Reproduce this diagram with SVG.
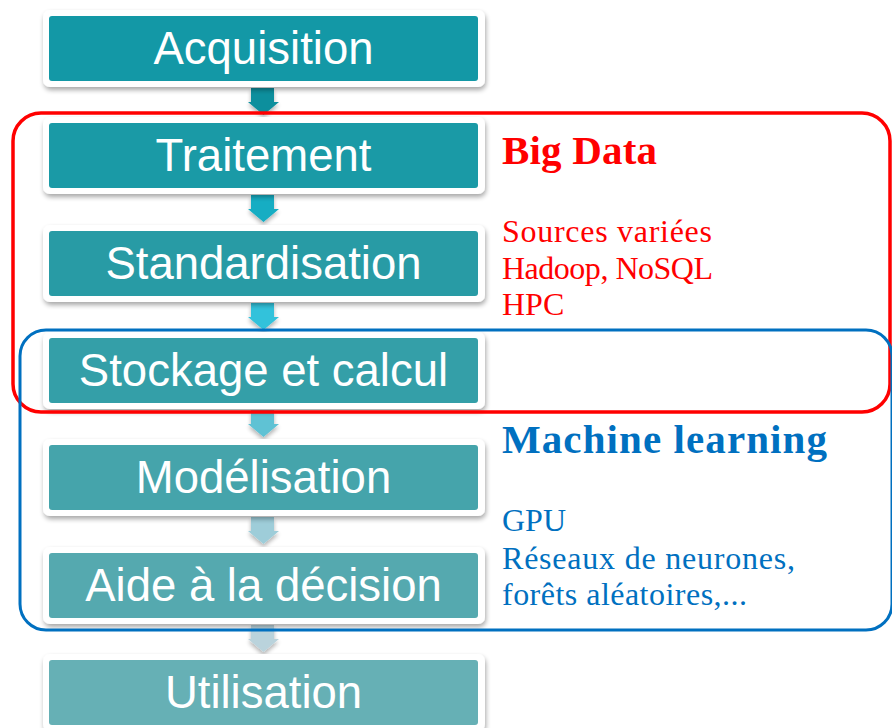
<svg xmlns="http://www.w3.org/2000/svg" width="892" height="728" viewBox="0 0 892 728">
<defs>
<filter id="sh" x="-10%" y="-20%" width="120%" height="150%">
<feGaussianBlur in="SourceAlpha" stdDeviation="2.5"/>
<feOffset dx="1" dy="3" result="b"/>
<feComponentTransfer><feFuncA type="linear" slope="0.35"/></feComponentTransfer>
<feMerge><feMergeNode/><feMergeNode in="SourceGraphic"/></feMerge>
</filter>
<filter id="ash" x="-50%" y="-50%" width="200%" height="200%">
<feGaussianBlur in="SourceAlpha" stdDeviation="2"/>
<feOffset dx="0" dy="3"/>
<feComponentTransfer><feFuncA type="linear" slope="0.3"/></feComponentTransfer>
<feMerge><feMergeNode/><feMergeNode in="SourceGraphic"/></feMerge>
</filter>
</defs>
<style>
.frame{fill:#ffffff;filter:url(#sh)}
.lbl{font-family:"Liberation Sans",Arial,sans-serif;font-size:45.5px;fill:#ffffff;text-anchor:middle}
.red{fill:#ff0000;font-family:"Liberation Serif","Times New Roman",serif}
.blue{fill:#0070c0;font-family:"Liberation Serif","Times New Roman",serif}
.ttl{font-weight:bold;font-size:41px}
.sub{font-size:32px}
</style>
<rect width="892" height="728" fill="#ffffff"/>

<g id="connectors">
<path d="M251 88h23v14h5l-15.5 13L248 102h3z" fill="#0e8f9d" filter="url(#ash)"/>
<path d="M251 195h23v14h5l-15.5 13L248 209h3z" fill="#14adc3" filter="url(#ash)"/>
<path d="M251 303h23v14h5l-15.5 13L248 317h3z" fill="#33c2db" filter="url(#ash)"/>
<path d="M251 410h23v14h5l-15.5 13L248 424h3z" fill="#5fc2d4" filter="url(#ash)"/>
<path d="M251 517h23v14h5l-15.5 13L248 531h3z" fill="#9ecdd9" filter="url(#ash)"/>
<path d="M251 625h23v14h5l-15.5 13L248 639h3z" fill="#bad3dc" filter="url(#ash)"/>
</g>

<g id="n1"><rect class="frame" x="43" y="10" width="442" height="77" rx="7"/><rect x="49" y="16" width="429" height="65" rx="3" fill="#1398a6"/><text class="lbl" x="263.5" y="64">Acquisition</text></g>
<g id="n2"><rect class="frame" x="43" y="117" width="442" height="77" rx="7"/><rect x="49" y="123" width="429" height="65" rx="3" fill="#1a9aa6"/><text class="lbl" x="263.5" y="171">Traitement</text></g>
<g id="n3"><rect class="frame" x="43" y="225" width="442" height="77" rx="7"/><rect x="49" y="231" width="429" height="65" rx="3" fill="#289ba5"/><text class="lbl" x="263.5" y="279">Standardisation</text></g>
<g id="n4"><rect class="frame" x="43" y="332" width="442" height="77" rx="7"/><rect x="49" y="338" width="429" height="65" rx="3" fill="#349fa8"/><text class="lbl" x="263.5" y="386">Stockage et calcul</text></g>
<g id="n5"><rect class="frame" x="43" y="439" width="442" height="77" rx="7"/><rect x="49" y="445" width="429" height="65" rx="3" fill="#45a4ab"/><text class="lbl" x="263.5" y="493">Modélisation</text></g>
<g id="n6"><rect class="frame" x="43" y="547" width="442" height="77" rx="7"/><rect x="49" y="553" width="429" height="65" rx="3" fill="#55a9af"/><text class="lbl" x="263.5" y="601">Aide à la décision</text></g>
<g id="n7"><rect class="frame" x="43" y="654" width="442" height="77" rx="7"/><rect x="49" y="660" width="429" height="65" rx="3" fill="#66b0b5"/><text class="lbl" x="263.5" y="708">Utilisation</text></g>

<g id="bigdata">
<rect x="13" y="113" width="877" height="299" rx="28" fill="none" stroke="#ff0000" stroke-width="3.5"/>
<text class="red ttl" x="502" y="164" textLength="155">Big Data</text>
<text class="red sub" x="502" y="242" textLength="210">Sources variées</text>
<text class="red sub" x="502" y="279" textLength="211">Hadoop, NoSQL</text>
<text class="red sub" x="502" y="315">HPC</text>
</g>

<g id="ml">
<rect x="20" y="330" width="872" height="300" rx="26" fill="none" stroke="#0070c0" stroke-width="3"/>
<text class="blue ttl" x="502" y="453" textLength="325">Machine learning</text>
<text class="blue sub" x="502" y="531">GPU</text>
<text class="blue sub" x="502" y="569" textLength="293">Réseaux de neurones,</text>
<text class="blue sub" x="502" y="605" textLength="245">forêts aléatoires,...</text>
</g>
</svg>
